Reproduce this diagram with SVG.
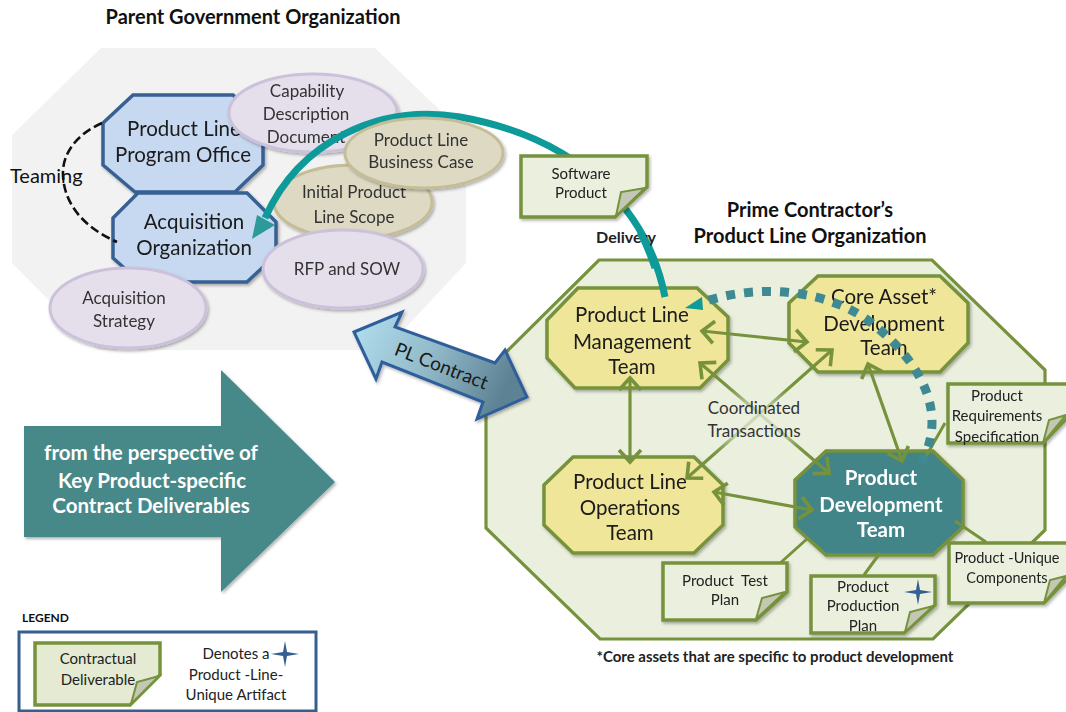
<svg xmlns="http://www.w3.org/2000/svg" width="1066" height="712" viewBox="0 0 1066 712">
<style>
text{font-family:"Lato","Liberation Sans",sans-serif;text-anchor:middle;fill:#1a1a1a}
.h{font-size:20px;font-weight:700;fill:#111}
.box{font-size:20.5px}
.sm{font-size:17px;fill:#333}
.nt{font-size:15px;fill:#222}
.bd{font-weight:700}
.wh{fill:#fff;font-weight:700}
.note{fill:#ebf0de;stroke:#76923c;stroke-width:3.5;stroke-linejoin:miter}
.fold{fill:#c3c7b4;stroke:#76923c;stroke-width:2}
.blue{fill:#c6d9f1;stroke:#376092;stroke-width:3.5}
.yel{fill:#f0e699;stroke:#76923c;stroke-width:3.5}
.pur{fill:#e5dfec;stroke:#ccc1da;stroke-width:3}
.tan{fill:#ddd9c3;stroke:#c4bd97;stroke-width:3}
.ga{fill:none;stroke:#76923c;stroke-width:3.2;marker-start:url(#v);marker-end:url(#v)}
.gl{fill:none;stroke:#76923c;stroke-width:3}
.star{fill:#365f91}
</style>
<defs>
<filter id="sh" x="-10%" y="-10%" width="125%" height="125%"><feDropShadow dx="1.5" dy="2" stdDeviation="1.5" flood-color="#000" flood-opacity=".3"/></filter>
<filter id="glow" x="-30%" y="-50%" width="160%" height="200%"><feGaussianBlur stdDeviation="9"/></filter>
<linearGradient id="pl" x1="0" y1="0" x2="1" y2="0.3"><stop offset="0" stop-color="#b2dfee"/><stop offset=".5" stop-color="#94bccb"/><stop offset="1" stop-color="#5d8294"/></linearGradient>
<marker id="v" markerUnits="userSpaceOnUse" markerWidth="30" markerHeight="30" refX="15" refY="12" orient="auto-start-reverse" viewBox="0 0 30 24"><path d="M3 1L15 12L3 23" fill="none" stroke="#76923c" stroke-width="3.6"/></marker>
</defs>

<g id="parent-org">
<polygon points="101,48 375,48 466,135 466,263 385,350 98,350 12,263 12,135" fill="#f2f2f2"/>
<text class="h" x="253" y="24">Parent Government Organization</text>
</g>
<g id="program-office" filter="url(#sh)">
<polygon class="blue" points="133,95 233,95 263,123 263,165 235,192 135,192 103,165 103,123"/>
<text class="box" x="184" y="136">Product Line</text><text class="box" x="183" y="162">Program Office</text>
</g>
<g id="acquisition-org" filter="url(#sh)">
<polygon class="blue" points="138,193 247,193 276,222 276,255 247,282 140,282 113,258 113,218"/>
<text class="box" x="194" y="229">Acquisition</text><text class="box" x="194" y="255">Organization</text>
</g>
<g id="capability" filter="url(#sh)">
<ellipse class="pur" cx="313" cy="113" rx="84" ry="39"/>
<text class="sm" x="307" y="97">Capability</text><text class="sm" x="306" y="120">Description</text><text class="sm" x="306" y="143">Document</text>
</g>
<g id="initial-scope" filter="url(#sh)">
<ellipse class="tan" cx="353" cy="202" rx="79" ry="37"/>
<text class="sm" x="354" y="198">Initial Product</text><text class="sm" x="354" y="223">Line Scope</text>
</g>
<g id="rfp" filter="url(#sh)">
<ellipse class="pur" cx="343" cy="269" rx="80" ry="39"/>
<text class="sm" x="347" y="275">RFP and SOW</text>
</g>
<g id="acq-strategy" filter="url(#sh)">
<ellipse class="pur" cx="128" cy="308" rx="78" ry="40"/>
<text class="sm" x="124" y="304">Acquisition</text><text class="sm" x="124" y="327">Strategy</text>
</g>

<g id="prime-org">
<polygon points="599,260 932,260 1045,370 1045,530 933,639 600,639 486,528 486,372" fill="#ebf0de" stroke="#76923c" stroke-width="3.2"/>
<text class="h" x="810" y="217">Prime Contractor’s</text>
<text class="h" x="810" y="243">Product Line Organization</text>
<text class="nt bd" x="775" y="662">*Core assets that are specific to product development</text>
</g>
<g id="pl-mgmt" filter="url(#sh)">
<polygon class="yel" points="578,288 697,288 728,317 728,360 700,388 575,388 547,358 547,320"/>
<text class="box" x="632" y="322">Product Line</text><text class="box" x="632" y="349">Management</text><text class="box" x="632" y="374">Team</text>
</g>
<g id="core-asset" filter="url(#sh)">
<polygon class="yel" points="818,276 940,276 968,303 968,343 940,372 818,372 789,343 789,303"/>
<text class="box" x="884" y="304">Core Asset*</text><text class="box" x="884" y="331">Development</text><text class="box" x="884" y="355">Team</text>
</g>
<g id="pl-ops" filter="url(#sh)">
<polygon class="yel" points="573,457 694,457 723,485 723,525 694,553 573,553 544,525 544,485"/>
<text class="box" x="630" y="489">Product Line</text><text class="box" x="630" y="515">Operations</text><text class="box" x="630" y="540">Team</text>
</g>
<g id="prod-dev" filter="url(#sh)">
<polygon points="826,451 933,451 963,480 963,527 933,555 826,555 795,527 795,480" fill="#438589" stroke="#76923c" stroke-width="3.5"/>
<text class="box wh" x="881" y="485">Product</text><text class="box wh" x="881" y="512">Development</text><text class="box wh" x="881" y="537">Team</text>
</g>

<g id="connectors">
<path class="ga" d="M702 331L807 342"/>
<path class="ga" d="M630 378L630 462"/>
<path class="ga" d="M700 363L829 473"/>
<path class="ga" d="M832 350L687 478"/>
<path class="ga" d="M868 364L902 461"/>
<path class="ga" d="M714 492L812 510"/>
<path class="gl" d="M808 538L778 565M880 553L864 575M955 521L986 542M945 423L925 458"/>
<path d="M102 123C75 135 62 155 63 175C64 205 85 228 117 242" fill="none" stroke="#111" stroke-width="2.6" stroke-dasharray="9 4"/>
<path d="M665 297C650 220 590 140 460 117C380 104 300 140 265 218" fill="none" stroke="#0f9a9a" stroke-width="7"/>
<polygon points="252,239 275,225 257,215" fill="#2b9a98"/>
<path d="M921 463C945 420 930 370 873 324C830 290 760 282 700 303" fill="none" stroke="#3f8a92" stroke-width="9" stroke-dasharray="9 9"/>
<polygon points="685,308 702,297 703,310" fill="#0f9a9a"/>
</g>

<g id="business-case" filter="url(#sh)">
<ellipse class="tan" cx="424" cy="153" rx="79" ry="35"/>
<text class="sm" x="421" y="146">Product Line</text><text class="sm" x="421" y="168">Business Case</text>
</g>
<g id="software-product" filter="url(#sh)">
<polygon class="note" points="521,156 647,156 647,187 615,217 521,217"/><polygon class="fold" points="645,188 621,192 616,216"/>
<text class="nt" x="581" y="179">Software</text><text class="nt" x="581" y="198">Product</text>
</g>
<text id="delivery" class="nt bd" style="font-size:16px" x="626" y="243">Delivery</text>
<path d="M640 232C646 243 651 256 655 268" fill="none" stroke="#0f9a9a" stroke-width="7"/>
<g id="coordinated">
<ellipse cx="754" cy="422" rx="52" ry="24" fill="#ebf0de" opacity=".75" filter="url(#glow)"/>
<text class="sm" x="754" y="414">Coordinated</text>
<text class="sm" x="754" y="437">Transactions</text>
</g>
<text id="teaming" style="font-size:20px;text-anchor:start;fill:#111" x="10" y="183">Teaming</text>

<g id="prs" filter="url(#sh)">
<polygon class="note" points="948,384 1070,384 1070,415 1043,443 948,443"/><polygon class="fold" points="1066,415 1049,420 1043,443"/>
<text class="nt" x="997" y="401">Product</text><text class="nt" x="997" y="421">Requirements</text><text class="nt" x="997" y="442">Specification</text>
</g>
<g id="unique" filter="url(#sh)">
<polygon class="note" points="949,543 1070,543 1070,576 1044,603 949,603"/><polygon class="fold" points="1066,576 1050,580 1044,603"/>
<text class="nt" style="font-size:14.5px" x="1007" y="563">Product -Unique</text><text class="nt" style="font-size:14.5px" x="1007" y="583">Components</text>
</g>
<g id="test-plan" filter="url(#sh)">
<polygon class="note" points="663,563 787,563 787,592 756,620 663,620"/><polygon class="fold" points="785,592 762,598 756,619"/>
<text class="nt" xml:space="preserve" x="725" y="586">Product  Test</text><text class="nt" x="725" y="605">Plan</text>
</g>
<g id="production-plan" filter="url(#sh)">
<polygon class="note" points="811,576 935,576 935,605 904,633 811,633"/><polygon class="fold" points="933,606 910,612 905,632"/>
<text class="nt" x="863" y="592">Product</text><text class="nt" x="863" y="611">Production</text><text class="nt" x="863" y="631">Plan</text>
<path class="star" d="M918 579L920 590L932 592L920 594L918 605L916 594L904 592L916 590Z"/>
</g>

<g id="pl-contract">
<polygon points="354,332 402,312 395,327 495,363 505,350 527,397 477,419 483,402 382,362 376,379" fill="url(#pl)" stroke="#2f5f9a" stroke-width="3" filter="url(#sh)"/>
<text transform="translate(439 372) rotate(21)" style="font-size:19px" fill="#111" x="0" y="0">PL Contract</text>
</g>
<g id="perspective">
<polygon points="24,426 221,426 221,370 335,482 221,592 221,537 24,537" fill="#468889" filter="url(#sh)"/>
<text class="wh" style="font-size:20.5px;fill:#fff" x="151" y="460">from the perspective of</text>
<text class="wh" style="font-size:20.5px;fill:#fff" x="152" y="488">Key Product-specific</text>
<text class="wh" style="font-size:20.5px;fill:#fff" x="151" y="513">Contract Deliverables</text>
</g>
<g id="legend">
<text class="bd" style="font-size:12px;text-anchor:start;fill:#111" x="22" y="622">LEGEND</text>
<rect x="19" y="632" width="297" height="79" fill="#fff" stroke="#365f91" stroke-width="3"/>
<polygon class="note" points="35,643 160,643 160,675 130,705 35,705" style="fill:#e4ebd2"/><polygon class="fold" points="159,676 137,682 131,704"/>
<text class="nt" x="98" y="664">Contractual</text><text class="nt" x="98" y="685">Deliverable</text>
<text class="nt" x="236" y="659">Denotes a</text><text class="nt" x="236" y="680">Product -Line-</text><text class="nt" x="236" y="700">Unique Artifact</text>
<path class="star" d="M285 641L287 652L299 654L287 656L285 667L283 656L271 654L283 652Z"/>
</g>
</svg>
